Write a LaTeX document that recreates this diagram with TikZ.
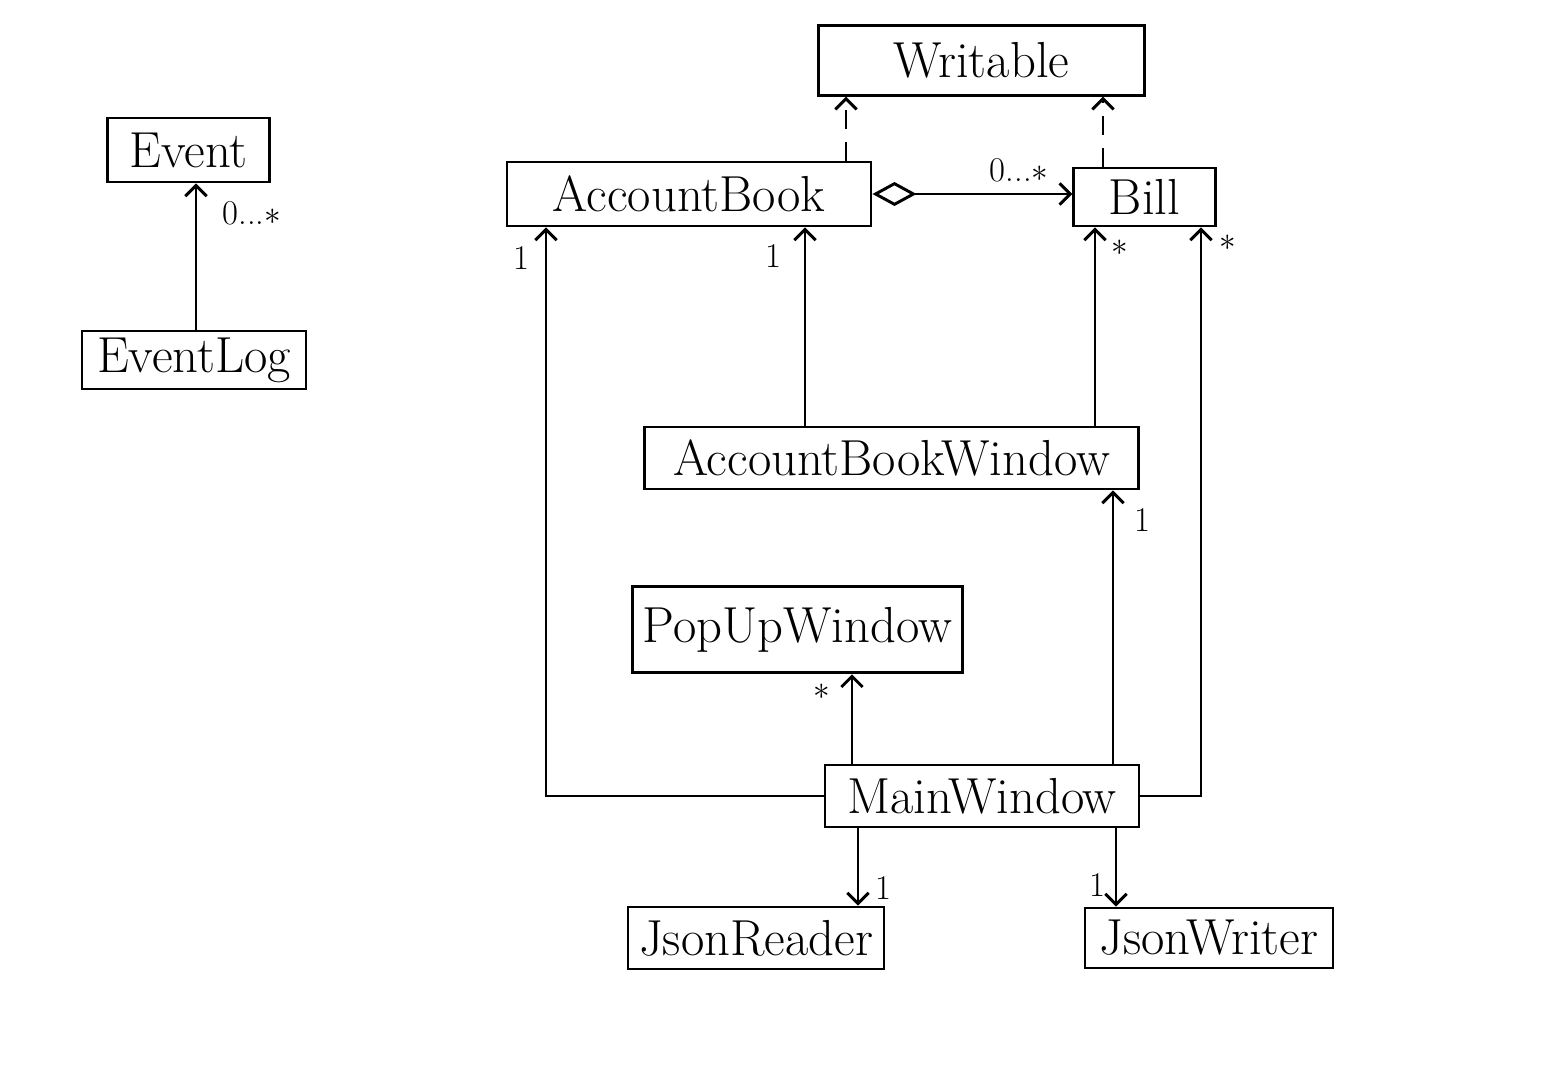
\documentclass[tikz,border=0pt]{standalone}
\usetikzlibrary{arrows.meta}

\tikzset{every picture/.style={line width=2.2pt}}
\tikzset{
  classbox/.style={draw, rectangle, inner sep=0pt, font=\fontsize{38}{44}\selectfont},
  mult/.style={inner sep=0.75pt, font=\fontsize{26}{30}\selectfont},
  assoc/.style={-{Straight Barb[length=8pt,width=16pt]}},
  realize/.style={dash pattern={on 14pt off 10pt}, -{Straight Barb[length=8pt,width=16pt]}},
  aggr/.style={{Diamond[open,length=33pt,width=18pt]}-{Straight Barb[length=8pt,width=16pt]}}
}

\begin{document}
\begin{tikzpicture}[x=0.75pt,y=0.75pt,yscale=-1,xscale=1]
\useasboundingbox (0,0) rectangle (1567,1073);

% Classes
\node [classbox, minimum width=245pt, minimum height=52pt] (writable) at (981.5,60.5) {Writable};
\node [classbox, minimum width=121pt, minimum height=48pt] (event) at (188.5,150) {Event};
\node [classbox, minimum width=168pt, minimum height=43.5pt] (eventlog) at (194,360) {EventLog};
\node [classbox, minimum width=273pt, minimum height=48pt] (acctbook) at (689,194) {AccountBook};
\node [classbox, minimum width=106pt, minimum height=43.5pt] (bill) at (1144.5,197) {Bill};
\node [classbox, minimum width=370pt, minimum height=46.5pt] (abwindow) at (891.5,458) {AccountBookWindow};
\node [classbox, minimum width=247pt, minimum height=65pt] (popup) at (797.5,629.5) {PopUpWindow};
\node [classbox, minimum width=235.5pt, minimum height=46.5pt] (mainwin) at (982,796) {MainWindow};
\node [classbox, minimum width=192pt, minimum height=46.5pt] (jreader) at (756,938) {JsonReader};
\node [classbox, minimum width=186pt, minimum height=45pt] (jwriter) at (1209,938) {JsonWriter};

% columns of the vertical lines
\coordinate (c-log) at (196,0);
\coordinate (c-abw) at (846,0);
\coordinate (c-bw) at (1103,0);
\coordinate (c-mab) at (546,0);
\coordinate (c-wab) at (805,0);
\coordinate (c-wb) at (1095,0);
\coordinate (c-mb) at (1201,0);
\coordinate (c-mw) at (1113,0);
\coordinate (c-mp) at (852,0);
\coordinate (c-mr) at (858,0);
\coordinate (c-mj) at (1116,0);

%Straight Lines
\draw [assoc] (eventlog.north -| c-log) -- (event.south -| c-log);
%Dashed Lines
\draw [realize] (acctbook.north -| c-abw) -- (writable.south -| c-abw);
\draw [realize] (bill.north -| c-bw) -- (writable.south -| c-bw);
%Aggregation
\draw [aggr] (acctbook.east) -- (bill.west |- acctbook.east);
%Straight Lines
\draw [assoc] (mainwin.west) -| (acctbook.south -| c-mab);
\draw [assoc] (abwindow.north -| c-wab) -- (acctbook.south -| c-wab);
\draw [assoc] (abwindow.north -| c-wb) -- (bill.south -| c-wb);
\draw [assoc] (mainwin.east) -| (bill.south -| c-mb);
\draw [assoc] (mainwin.north -| c-mw) -- (abwindow.south -| c-mw);
\draw [assoc] (mainwin.north -| c-mp) -- (popup.south -| c-mp);
\draw [assoc] (mainwin.south -| c-mr) -- (jreader.north -| c-mr);
\draw [assoc] (mainwin.south -| c-mj) -- (jwriter.north -| c-mj);

% Text Node
\node [mult] (m-event) at (252,213) {0...$\ast$};
\node [mult] (m-bill) at (1019,170) {0...$\ast$};
\node [mult] (m-mab) at (521,258) {1};
\node [mult] (m-wab) at (773,256) {1};
\node [mult] (m-wb) at (1120,248) {$\ast$};
\node [mult] (m-mb) at (1228,243) {$\ast$};
\node [mult] (m-mw) at (1142,520) {1};
\node [mult] (m-mp) at (822,692) {$\ast$};
\node [mult] (m-mr) at (883,888) {1};
\node [mult] (m-mj) at (1097,885) {1};

\end{tikzpicture}
\end{document}
